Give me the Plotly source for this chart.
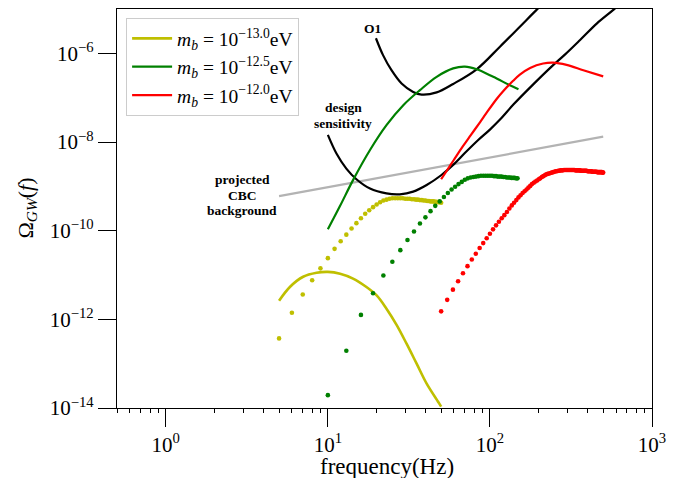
import plotly.graph_objects as go

# ---------------- data (frequency in Hz, values given as log10 of Omega_GW) ----------------
yellow_line_f = [5, 5.83, 7.04, 8.52, 10, 11.9, 14.3, 17.3, 20, 23, 26.6, 30.6, 35.3, 40.7, 48.7, 50]
yellow_line_log = [-11.58, -11.27, -11.04, -10.95, -10.93, -10.97, -11.08, -11.27, -11.46, -11.76,
                   -12.13, -12.55, -13.00, -13.45, -13.90, -13.97]

green_line_f = [10, 11.9, 14.3, 18.2, 23.0, 29.2, 37.0, 46.9, 59.3, 70.1, 82.8, 104.8, 132.8, 150]
green_line_log = [-9.97, -9.44, -8.86, -8.18, -7.62, -7.17, -6.83, -6.53, -6.34, -6.30, -6.36,
                  -6.53, -6.72, -6.81]

red_line_f = [50, 55, 60, 68, 76, 87, 95, 110, 121, 139, 153, 177, 213, 246, 297, 377, 500]
red_line_log = [-8.84, -8.61, -8.40, -8.10, -7.85, -7.55, -7.35, -7.03, -6.85, -6.62, -6.48,
                -6.33, -6.23, -6.21, -6.26, -6.38, -6.52]

yellow_dots_f = [5, 6, 7, 8, 9, 10, 11, 12, 13, 14, 15, 16, 17, 18, 19, 20, 21, 22, 23, 24, 25,
                 26, 27, 28, 29, 30, 31, 32, 33, 34, 35, 36, 37, 38, 39, 40, 41, 42, 43, 44, 45,
                 46, 47, 48, 49, 50]
yellow_dots_log = [-12.43, -11.85, -11.44, -11.12, -10.85, -10.62, -10.41, -10.24, -10.09, -9.95,
                   -9.83, -9.72, -9.62, -9.54, -9.47, -9.41, -9.36, -9.32, -9.30, -9.28, -9.27,
                   -9.27, -9.27, -9.27, -9.27, -9.28, -9.28, -9.28, -9.29, -9.29, -9.30, -9.30,
                   -9.31, -9.31, -9.32, -9.32, -9.33, -9.33, -9.34, -9.34, -9.34, -9.35, -9.35,
                   -9.36, -9.36, -9.37]

green_dots_f = [10, 13, 16, 19, 22, 25, 28, 31, 34, 37, 40, 43, 46, 49, 52, 55, 58, 61, 64, 67,
                70, 73, 76, 79, 82, 85, 88, 91, 94, 97, 100, 103, 106, 109, 112, 115, 118, 121,
                124, 127, 130, 133, 136, 139, 142, 145, 148]
green_dots_log = [-13.71, -12.71, -11.90, -11.41, -11.01, -10.70, -10.44, -10.21, -10.02, -9.84,
                  -9.70, -9.56, -9.44, -9.34, -9.24, -9.15, -9.07, -9.01, -8.95, -8.90, -8.85,
                  -8.82, -8.80, -8.79, -8.78, -8.77, -8.76, -8.76, -8.76, -8.76, -8.76, -8.76,
                  -8.77, -8.77, -8.78, -8.78, -8.78, -8.79, -8.79, -8.80, -8.80, -8.80, -8.81,
                  -8.81, -8.81, -8.82, -8.82]

red_dots_f = [50.0, 54.5, 59.1, 63.6, 68.2, 72.7, 77.3, 81.8, 86.4, 90.9, 95.5, 100.0, 104.5,
              109.1, 113.6, 118.2, 122.7, 127.3, 131.8, 136.4, 140.9, 145.5, 150.0, 154.5, 159.1,
              163.6, 168.2, 172.7, 177.3, 181.8, 186.4, 190.9, 195.5, 200.0, 204.5, 209.1, 213.6,
              218.2, 222.7, 227.3, 231.8, 236.4, 240.9, 245.5, 250.0, 254.5, 259.1, 263.6, 268.2,
              272.7, 277.3, 281.8, 286.4, 290.9, 295.5, 300.0, 304.5, 309.1, 313.6, 318.2, 322.7,
              327.3, 331.8, 336.4, 340.9, 345.5, 350.0, 354.5, 359.1, 363.6, 368.2, 372.7, 377.3,
              381.8, 386.4, 390.9, 395.5, 400.0, 404.5, 409.1, 413.6, 418.2, 422.7, 427.3, 431.8,
              436.4, 440.9, 445.5, 450.0, 454.5, 459.1, 463.6, 468.2, 472.7, 477.3, 481.8, 486.4,
              490.9, 495.5, 500.0]
red_dots_log = [-11.82, -11.56, -11.33, -11.14, -10.96, -10.80, -10.65, -10.52, -10.39, -10.28,
                -10.17, -10.07, -9.97, -9.88, -9.80, -9.72, -9.65, -9.58, -9.50, -9.43, -9.37,
                -9.31, -9.25, -9.20, -9.15, -9.11, -9.07, -9.03, -8.99, -8.95, -8.92, -8.89,
                -8.87, -8.84, -8.82, -8.79, -8.77, -8.75, -8.73, -8.72, -8.71, -8.70, -8.69,
                -8.68, -8.67, -8.66, -8.66, -8.65, -8.65, -8.64, -8.64, -8.64, -8.63, -8.63,
                -8.63, -8.63, -8.63, -8.63, -8.63, -8.63, -8.63, -8.63, -8.63, -8.64, -8.64,
                -8.64, -8.64, -8.64, -8.64, -8.65, -8.65, -8.65, -8.65, -8.65, -8.65, -8.65,
                -8.65, -8.66, -8.66, -8.66, -8.66, -8.66, -8.66, -8.67, -8.67, -8.67, -8.67,
                -8.67, -8.67, -8.67, -8.68, -8.68, -8.68, -8.68, -8.68, -8.68, -8.68, -8.68,
                -8.69, -8.69]

o1_f = [19.8, 21.9, 24.7, 28.5, 33.6, 37.9, 46.9, 59.3, 82.8, 115.3, 153, 194, 219]
o1_log = [-5.66, -6.04, -6.38, -6.68, -6.87, -6.93, -6.88, -6.69, -6.36, -5.85, -5.40, -5.02, -4.84]

design_f = [10, 11.3, 13.0, 15.0, 18.2, 23.0, 27.8, 33.6, 40.7, 50, 60, 70, 85, 100, 115, 140,
            185, 240, 290, 360, 456, 577, 650]
design_log = [-7.84, -8.26, -8.60, -8.84, -9.05, -9.16, -9.18, -9.12, -8.97, -8.75, -8.50, -8.25,
              -7.95, -7.72, -7.50, -7.15, -6.70, -6.30, -6.03, -5.70, -5.33, -5.02, -4.85]

cbc_f = [5, 10, 20, 50, 100, 200, 500]
cbc_log = [-9.22, -9.02, -8.82, -8.55, -8.35, -8.15, -7.88]

x_tick_vals = [1, 10, 100, 1000]
x_tick_text = ["10<sup>0</sup>", "10<sup>1</sup>", "10<sup>2</sup>", "10<sup>3</sup>"]
y_tick_vals = [1e-14, 1e-12, 1e-10, 1e-8, 1e-6]
y_tick_text = ["10<sup>\u221214</sup>", "10<sup>\u221212</sup>", "10<sup>\u221210</sup>",
               "10<sup>\u22128</sup>", "10<sup>\u22126</sup>"]
x_minor_vals = [m * 10.0 ** e for e in range(-1, 3) for m in range(2, 10) if m * 10.0 ** e >= 0.5]

legend_names = ["<i>m</i><sub><i>b</i></sub> = 10<sup>\u221213.0</sup>eV",
                "<i>m</i><sub><i>b</i></sub> = 10<sup>\u221212.5</sup>eV",
                "<i>m</i><sub><i>b</i></sub> = 10<sup>\u221212.0</sup>eV"]

YEL = "#bfbf00"
GRN = "#008000"
RED = "#ff0000"
GRY = "#b3b3b3"
SERIF = "Liberation Serif, Times New Roman, serif"


def pw(vals):
    return [10.0 ** v for v in vals]


fig = go.Figure()

fig.add_trace(go.Scatter(x=cbc_f, y=pw(cbc_log), mode="lines",
                         line=dict(color=GRY, width=2.2), showlegend=False))
fig.add_trace(go.Scatter(x=design_f, y=pw(design_log), mode="lines", line_shape="spline",
                         line=dict(color="black", width=2.2), showlegend=False))
fig.add_trace(go.Scatter(x=o1_f, y=pw(o1_log), mode="lines", line_shape="spline",
                         line=dict(color="black", width=2.2), showlegend=False))

fig.add_trace(go.Scatter(x=yellow_line_f, y=pw(yellow_line_log), mode="lines", line_shape="spline",
                         line=dict(color=YEL, width=2.6), name=legend_names[0], legendrank=1))
fig.add_trace(go.Scatter(x=green_line_f, y=pw(green_line_log), mode="lines", line_shape="spline",
                         line=dict(color=GRN, width=2.2), name=legend_names[1], legendrank=2))
fig.add_trace(go.Scatter(x=red_line_f, y=pw(red_line_log), mode="lines", line_shape="spline",
                         line=dict(color=RED, width=2.2), name=legend_names[2], legendrank=3))

for fx, fy, col in [(yellow_dots_f, yellow_dots_log, YEL),
                    (green_dots_f, green_dots_log, GRN),
                    (red_dots_f, red_dots_log, RED)]:
    fig.add_trace(go.Scatter(x=fx, y=pw(fy), mode="markers",
                             marker=dict(color=col, size=4.6, line=dict(width=0)),
                             showlegend=False))

ann_font = dict(family=SERIF, size=13.5, color="black")
texts = [("<b>O1</b>", 0.479, 0.952),
         ("<b>design</b>", 0.423, 0.753), ("<b>sensitivity</b>", 0.423, 0.713),
         ("<b>projected</b>", 0.234, 0.573), ("<b>CBC</b>", 0.234, 0.533),
         ("<b>background</b>", 0.234, 0.494)]
annotations = [dict(text=t, x=x, y=y, xref="paper", yref="paper", showarrow=False,
                    xanchor="center", yanchor="middle", font=ann_font) for t, x, y in texts]
annotations.append(dict(text="frequency(Hz)", x=0.505, y=-0.146, xref="paper", yref="paper",
                        showarrow=False, xanchor="center", yanchor="middle",
                        font=dict(family=SERIF, size=23, color="black")))
annotations.append(dict(text="\u03a9<sub><i>GW</i></sub>(<i>f</i>)", x=-0.17, y=0.5,
                        xref="paper", yref="paper", showarrow=False, textangle=-90,
                        xanchor="center", yanchor="middle",
                        font=dict(family=SERIF, size=22, color="black")))

# the page body adds an 8 px offset, so the figure is made 8 px smaller and shifted
fig.update_layout(
    width=675, height=470,
    margin=dict(l=109, r=31, t=1, b=70, autoexpand=False),
    paper_bgcolor="white", plot_bgcolor="white",
    font=dict(family=SERIF, size=20, color="black"),
    annotations=annotations,
    legend=dict(x=0.017, y=0.977, xanchor="left", yanchor="top",
                bgcolor="white", bordercolor="#cccccc", borderwidth=1,
                font=dict(family=SERIF, size=19.5, color="black"),
                itemwidth=40, tracegroupgap=0),
    xaxis=dict(type="log", range=[-0.30103, 3], showgrid=False, zeroline=False,
               showline=True, linecolor="black", linewidth=1.2, mirror=True,
               ticks="outside", ticklen=18, tickwidth=1.2, tickcolor="black",
               tickmode="array", tickvals=x_tick_vals, ticktext=x_tick_text,
               tickfont=dict(family=SERIF, size=21, color="black"),
               minor=dict(tickmode="array", tickvals=x_minor_vals, ticks="outside",
                          ticklen=4, tickwidth=1, tickcolor="black", showgrid=False)),
    yaxis=dict(type="log", range=[-14, -5], showgrid=False, zeroline=False,
               showline=True, linecolor="black", linewidth=1.2, mirror=True,
               ticks="outside", ticklen=18, tickwidth=1.2, tickcolor="black",
               tickmode="array", tickvals=y_tick_vals, ticktext=y_tick_text,
               tickfont=dict(family=SERIF, size=21, color="black")),
)

fig.write_html("out.html")
